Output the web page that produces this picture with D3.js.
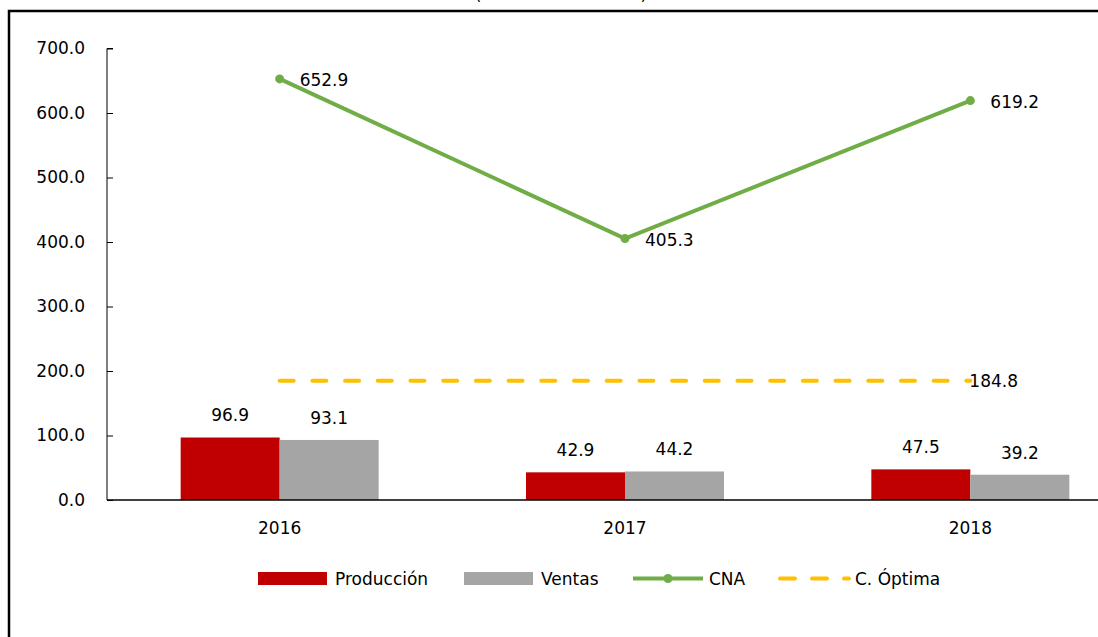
<!DOCTYPE html>
<html>
<head>
<meta charset="utf-8">
<script src="https://cdn.jsdelivr.net/npm/d3@7"></script>
<style>
  body { margin: 0; background: #fff; }
  svg text { font-family: "DejaVu Sans", sans-serif; font-size: 17px; fill: #000; }
</style>
</head>
<body>
<div id="chart"></div>
<script>
// Chart values
const years = ["2016", "2017", "2018"];
const produccion = [96.9, 42.9, 47.5];
const ventas = [93.1, 44.2, 39.2];
const cna = [652.9, 405.3, 619.2];
const cOptima = [184.8, 184.8, 184.8];
const yTicks = [0, 100, 200, 300, 400, 500, 600, 700];

const W = 1098, H = 637;
const svg = d3.select("#chart").append("svg").attr("width", W).attr("height", H);

// outer frame (cut off on right and bottom)
svg.append("path")
    .attr("d", `M9,${H + 5} L9,11 L${W + 5},11`)
    .attr("fill", "none").attr("stroke", "#000").attr("stroke-width", 2.5);

// title cut off at top edge
svg.append("text").attr("x", 561).attr("y", 0).attr("text-anchor", "middle")
    .style("font-size", "17px").text("(Miles de toneladas)");

const x = d3.scaleBand().domain(years).range([107, 1143]);
const y = d3.scaleLinear().domain([0, 700]).range([500, 48.5]);
const cx = d => x(d) + x.bandwidth() / 2;
const barW = 99;

// y axis, ticks pointing inward
const yAxis = svg.append("g").attr("transform", "translate(107,0)")
    .call(d3.axisLeft(y).tickValues(yTicks).tickSize(-6).tickPadding(22).tickFormat(d3.format(".1f")));
yAxis.select(".domain").attr("stroke", "#000").attr("d", `M6,${y(700)}H0V${y(0)}`);
yAxis.selectAll(".tick line").attr("stroke", "#000");
yAxis.selectAll(".tick text").style("font-size", "17px").attr("font-family", null);

// bars
const bars = svg.append("g");
bars.selectAll("rect.p").data(years).join("rect").attr("class", "p")
    .attr("x", d => cx(d) - barW).attr("width", barW)
    .attr("y", (d, i) => y(produccion[i])).attr("height", (d, i) => y(0) - y(produccion[i]))
    .attr("fill", "#C00000");
bars.selectAll("rect.v").data(years).join("rect").attr("class", "v")
    .attr("x", d => cx(d)).attr("width", barW)
    .attr("y", (d, i) => y(ventas[i])).attr("height", (d, i) => y(0) - y(ventas[i]))
    .attr("fill", "#A5A5A5");

// x axis line
svg.append("line").attr("x1", 107).attr("x2", W).attr("y1", y(0)).attr("y2", y(0))
    .attr("stroke", "#000").attr("stroke-width", 1.5);
svg.selectAll("text.xl").data(years).join("text").attr("class", "xl")
    .attr("x", cx).attr("y", 534).attr("text-anchor", "middle").text(d => d);

// bar labels
svg.selectAll("text.pl").data(years).join("text").attr("class", "pl")
    .attr("x", d => cx(d) - barW / 2).attr("y", (d, i) => y(produccion[i]) - 16)
    .attr("text-anchor", "middle").text((d, i) => produccion[i].toFixed(1));
svg.selectAll("text.vl").data(years).join("text").attr("class", "vl")
    .attr("x", d => cx(d) + barW / 2).attr("y", (d, i) => y(ventas[i]) - 16)
    .attr("text-anchor", "middle").text((d, i) => ventas[i].toFixed(1));

// C. Óptima dashed line
const line = d3.line().x((d, i) => cx(years[i])).y(d => y(d));
svg.append("path").datum(cOptima).attr("d", line)
    .attr("fill", "none").attr("stroke", "#FFC000").attr("stroke-width", 4)
    .attr("stroke-linecap", "round").attr("stroke-dasharray", "14,18.7");
svg.append("text").attr("x", cx("2018") - 1).attr("y", y(cOptima[2]) + 6)
    .text(cOptima[2].toFixed(1));

// CNA line
svg.append("path").datum(cna).attr("d", line)
    .attr("fill", "none").attr("stroke", "#70AD47").attr("stroke-width", 4);
svg.selectAll("circle.cna").data(cna).join("circle").attr("class", "cna")
    .attr("cx", (d, i) => cx(years[i])).attr("cy", d => y(d)).attr("r", 4.5)
    .attr("fill", "#70AD47");
svg.selectAll("text.cl").data(cna).join("text").attr("class", "cl")
    .attr("x", (d, i) => cx(years[i]) + 20).attr("y", d => y(d) + 7)
    .text(d => d.toFixed(1));

// legend
const lg = svg.append("g");
lg.append("rect").attr("x", 258).attr("y", 572).attr("width", 69).attr("height", 13).attr("fill", "#C00000");
lg.append("text").attr("x", 335).attr("y", 585).text("Producción");
lg.append("rect").attr("x", 464).attr("y", 572).attr("width", 69).attr("height", 13).attr("fill", "#A5A5A5");
lg.append("text").attr("x", 541).attr("y", 585).text("Ventas");
lg.append("line").attr("x1", 633).attr("x2", 703).attr("y1", 578.5).attr("y2", 578.5)
    .attr("stroke", "#70AD47").attr("stroke-width", 4);
lg.append("circle").attr("cx", 668).attr("cy", 578.5).attr("r", 4.5).attr("fill", "#70AD47");
lg.append("text").attr("x", 709).attr("y", 585).text("CNA");
lg.append("line").attr("x1", 780).attr("x2", 849).attr("y1", 578.5).attr("y2", 578.5)
    .attr("stroke", "#FFC000").attr("stroke-width", 4).attr("stroke-linecap", "round")
    .attr("stroke-dasharray", "15,17");
lg.append("text").attr("x", 855).attr("y", 585).text("C. Óptima");
</script>
</body>
</html>
